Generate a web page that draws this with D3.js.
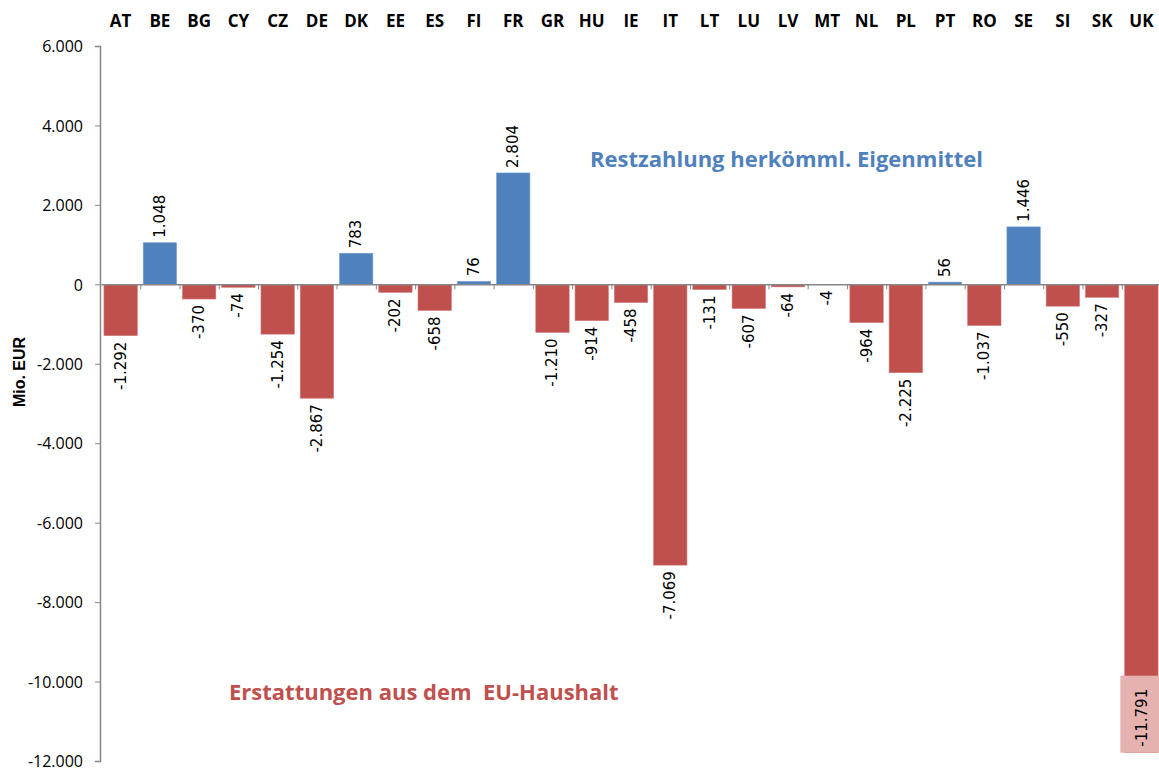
<!DOCTYPE html>
<html>
<head>
<meta charset="utf-8">
<script src="https://cdn.jsdelivr.net/npm/d3@7"></script>
<style>
  body { margin: 0; background: #fff; }
  svg { font-family: "Open Sans", Lato, sans-serif; }
</style>
</head>
<body>
<div id="chart"></div>
<script>
// Länder und Salden (Mio. EUR)
const countries = ["AT", "BE", "BG", "CY", "CZ", "DE", "DK", "EE", "ES", "FI", "FR", "GR", "HU", "IE",
    "IT", "LT", "LU", "LV", "MT", "NL", "PL", "PT", "RO", "SE", "SI", "SK", "UK"];
const values = [-1292, 1048, -370, -74, -1254, -2867, 783, -202, -658, 76, 2804, -1210, -914, -458,
    -7069, -131, -607, -64, -4, -964, -2225, 56, -1037, 1446, -550, -327, -11791];
const yTicks = [6000, 4000, 2000, 0, -2000, -4000, -6000, -8000, -10000, -12000];

const width = 1159;
const height = 769;
const margin = { top: 46, right: 0, bottom: 8, left: 100 };

const blue = "#4F81BD";
const red = "#C0504D";

const de = d3.formatLocale({ decimal: ",", thousands: ".", grouping: [3], currency: ["", " €"], minus: "-" });
const fmt = de.format(",d");

const svg = d3.select("#chart")
    .append("svg")
    .attr("width", width)
    .attr("height", height);

const x = d3.scaleBand()
    .domain(countries)
    .range([margin.left + 1, 1161])
    .paddingInner(0.15)
    .paddingOuter(0.075);

const y = d3.scaleLinear()
    .domain([-12000, 6000])
    .range([height - margin.bottom, margin.top]);

// Y-Achse
const yAxis = svg.append("g")
    .attr("transform", `translate(${margin.left},0)`)
    .call(d3.axisLeft(y).tickValues(yTicks).tickSize(5).tickPadding(12).tickFormat(fmt));
yAxis.select(".domain").attr("stroke", "#868686").attr("stroke-width", 1.5);
yAxis.selectAll(".tick line").attr("stroke", "#868686");
yAxis.selectAll(".tick text")
    .attr("font-size", 16)
    .attr("font-family", "'Open Sans', sans-serif")
    .attr("dy", "0.36em")
    .attr("fill", "#000");

// Achsentitel
svg.append("text")
    .attr("transform", "translate(25,372) rotate(-90)")
    .attr("text-anchor", "middle")
    .attr("font-size", 16)
    .attr("font-family", "'Liberation Sans', Arial, sans-serif")
    .attr("font-weight", "bold")
    .text("Mio. EUR");

// Länderbeschriftung oben
svg.append("g").selectAll("text")
    .data(countries)
    .enter()
    .append("text")
    .attr("x", d => x(d) + x.bandwidth() / 2)
    .attr("y", 27)
    .attr("text-anchor", "middle")
    .attr("font-size", 17)
    .attr("font-weight", "bold")
    .text(d => d);

// Balken
const data = countries.map((c, i) => ({ c, v: values[i] }));

svg.append("g").selectAll("rect")
    .data(data)
    .enter()
    .append("rect")
    .attr("x", d => x(d.c))
    .attr("width", x.bandwidth())
    .attr("y", d => y(Math.max(0, d.v)))
    .attr("height", d => Math.abs(y(d.v) - y(0)))
    .attr("fill", d => d.v >= 0 ? blue : red)
    .attr("stroke", d => d.v >= 0 ? "#7da0d0" : "#d07a78")
    .attr("stroke-width", 0.6);

// Nulllinie mit Teilstrichen
const zero = svg.append("g")
    .attr("transform", `translate(0,${y(0)})`)
    .call(d3.axisBottom(x).tickSize(0).tickFormat(""));
zero.select(".domain").attr("stroke", "#868686").attr("stroke-width", 1.5);
zero.selectAll(".tick").remove();
zero.selectAll(".sep")
    .data(countries)
    .enter()
    .append("line")
    .attr("class", "sep")
    .attr("x1", d => x(d) + x.step() - x.step() * x.paddingInner() / 2 + 0.5)
    .attr("x2", d => x(d) + x.step() - x.step() * x.paddingInner() / 2 + 0.5)
    .attr("y1", 0)
    .attr("y2", 5)
    .attr("stroke", "#868686");

// Wertbeschriftungen
const labels = svg.append("g")
    .attr("font-family", "'DejaVu Sans', Verdana, sans-serif")
    .attr("font-size", 15);
data.forEach(d => {
    const cx = x(d.c) + x.bandwidth() / 2;
    const end = y(d.v);
    const txt = fmt(d.v);
    if (d.v >= 0) {
        labels.append("text")
            .attr("transform", `translate(${cx + 5},${end - 5}) rotate(-90)`)
            .attr("text-anchor", "start")
            .text(txt);
    } else if (end + 70 > height) {
        // kein Platz unterhalb: Beschriftung im Balken mit Hintergrund
        const boxH = 77;
        labels.append("rect")
            .attr("x", cx - 21)
            .attr("y", end - boxH)
            .attr("width", 42)
            .attr("height", boxH)
            .attr("fill", "#E6B2B0");
        labels.append("text")
            .attr("transform", `translate(${cx + 6},${end - 6}) rotate(-90)`)
            .attr("text-anchor", "start")
            .text(txt);
    } else {
        labels.append("text")
            .attr("transform", `translate(${cx + 5},${end + 6}) rotate(-90)`)
            .attr("text-anchor", "end")
            .text(txt);
    }
});

// Annotationen
svg.append("text")
    .attr("x", 590)
    .attr("y", 167)
    .attr("font-size", 22)
    .attr("font-weight", "bold")
    .attr("fill", blue)
    .text("Restzahlung herkömml. Eigenmittel");

svg.append("text")
    .attr("x", 229)
    .attr("y", 700)
    .attr("font-size", 22)
    .attr("font-weight", "bold")
    .attr("fill", red)
    .style("white-space", "pre")
    .text("Erstattungen aus dem  EU-Haushalt");
</script>
</body>
</html>
